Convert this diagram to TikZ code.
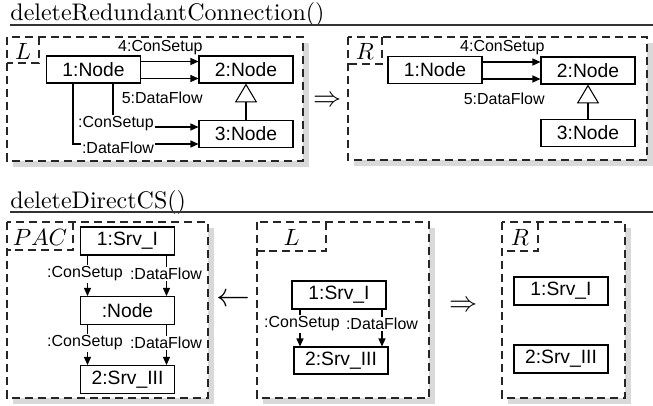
\documentclass[tikz,border=0pt]{standalone}
\usepackage{fontspec}
\setsansfont{Liberation Sans}
\usetikzlibrary{arrows.meta,calc}
\newdimen\pxu \pxu=0.4255pt
\newcommand\mypanel[4]{%
  \fill[shadowbox] (#1+6,#2+6) rectangle (#3+6,#4+6);
  \draw[frame] (#1,#2) rectangle (#3,#4);}
\newcommand\mytab[6]{%
  \draw[frame,fill=none] (#3,#2) |- (#1,#4);
  \node[tabtxt] (#6) at ({(#1+#3)/2},{(#2+#4)/2+1}) {$#5$};}
\begin{document}
\begin{tikzpicture}[x=\pxu,y=-\pxu,
  box/.style={draw, line width=0.45pt, fill=white, minimum width=94\pxu, minimum height=27\pxu, inner sep=0pt, font=\sffamily\fontsize{8.2}{9}\selectfont},
  lbl/.style={font=\sffamily\fontsize{6.8}{8}\selectfont, inner sep=0.6pt},
  wlbl/.style={lbl, fill=white},
  frame/.style={draw=black!85, dash pattern=on 3.4pt off 2.1pt, line width=0.55pt, fill=white},
  shadowbox/.style={fill=black!15},
  arr/.style={-{Triangle[length=3.4pt,width=3pt]}, line width=0.45pt},
  inh/.style={-{Triangle[open,length=8pt,width=9.4pt,fill=white]}, line width=0.45pt},
  ttl/.style={font=\fontsize{10.2}{12}\selectfont, inner sep=0pt},
  rule/.style={draw=black!80, line width=0.6pt},
  tabtxt/.style={font=\fontsize{10}{12}\selectfont, inner sep=0pt},
  sym/.style={inner sep=0pt}]
\useasboundingbox (0,0) rectangle (653,406);

% ---------- titles ----------
\node[ttl, anchor=base west] (t1) at (10,21) {deleteRedundantConnection()};
\coordinate (t1end) at (653,25);
\draw[rule] (t1.base west |- t1end) -- (t1end);
\node[ttl, anchor=base west] (t2) at (10,208) {deleteDirectCS()};
\coordinate (t2end) at (653,212);
\draw[rule] (t2.base west |- t2end) -- (t2end);

% ---------- top L ----------
\mypanel{7}{37}{303}{161}
\mytab{7}{37}{39}{63}{L}{tabL1}
\node[box] (n1) at (93.5,69.5) {1:Node};
\node[box] (n2) at (246,69.5) {2:Node};
\node[box] (n3) at (246,134) {3:Node};
\draw[arr] ($(n1.east)+(0,-8)$) -- ($(n2.west)+(0,-8)$);
\draw[arr] ($(n1.east)+(0,9)$) -- ($(n2.west)+(0,9)$);
\node[lbl, anchor=east] (l4a) at ($(n2.west)+(6,-22)$) {4:ConSetup};
\node[lbl, anchor=east] (l5a) at ($(n2.west)+(6,28.5)$) {5:DataFlow};
\draw[inh] (n3) -- (n2);
\draw[arr] ($(n1.south)+(19.5,0)$) |- ($(n3.west)+(0,-7)$);
\draw[arr] ($(n1.south)+(-20.5,0)$) |- ($(n3.west)+(0,10)$);
\node[wlbl] (lcs) at (116,124) {:ConSetup};
\node[wlbl] (ldf) at (118,148) {:DataFlow};

\node[sym, font=\fontsize{11.5}{12}\selectfont] (imp1) at (328,101) {$\Rightarrow$};

% ---------- top R ----------
\mypanel{348}{37}{647}{160}
\mytab{348}{37}{382}{64}{R}{tabR1}
\node[box] (r1) at (435,70) {1:Node};
\node[box] (r2) at (588,70.5) {2:Node};
\node[box] (r3) at (588,133) {3:Node};
\draw[arr] ($(r1.east)+(0,-8)$) -- ($(r2.west)+(0,-8.5)$);
\draw[arr] ($(r1.east)+(0,9)$) -- ($(r2.west)+(0,8.5)$);
\node[lbl, anchor=east] (l4b) at ($(r2.west)+(6,-22.5)$) {4:ConSetup};
\node[lbl, anchor=east] (l5b) at ($(r2.west)+(6,28)$) {5:DataFlow};
\draw[inh] (r3) -- (r2);

% ---------- bottom PAC ----------
\mypanel{7}{222}{208}{398}
\mytab{7}{222}{73}{250}{PAC}{tabPAC}
\node[box, minimum height=28\pxu] (p1) at (127.5,241) {1:Srv\_I};
\node[box, minimum height=28\pxu] (pn) at (127.5,310.5) {:Node};
\node[box, minimum height=28\pxu] (p2) at (127.5,379.5) {2:Srv\_III};
\draw[arr] ($(p1.south)+(-40,0)$) -- ($(pn.north)+(-40,0)$);
\draw[arr] ($(p1.south)+(39,0)$) -- ($(pn.north)+(39,0)$);
\draw[arr] ($(pn.south)+(-40,0)$) -- ($(p2.north)+(-40,0)$);
\draw[arr] ($(pn.south)+(39,0)$) -- ($(p2.north)+(39,0)$);
\node[wlbl] (pc1) at (85,274) {:ConSetup};
\node[wlbl] (pd1) at (166,274) {:DataFlow};
\node[wlbl] (pc2) at (85,343) {:ConSetup};
\node[wlbl] (pd2) at (166,343) {:DataFlow};

\node[sym, font=\fontsize{13.5}{14}\selectfont] (back) at (233,300) {$\leftarrow$};

% ---------- bottom L ----------
\mypanel{257}{222}{429}{398}
\mytab{257}{222}{326}{251}{L}{tabL2}
\node[box, minimum height=28\pxu] (q1) at (339,295) {1:Srv\_I};
\node[box] (q2) at (341,360.5) {2:Srv\_III};
\coordinate (qa) at ($(q1.south)+(-39,0)$);
\coordinate (qb) at ($(q1.south)+(43,0)$);
\draw[arr] (qa) -- (qa |- q2.north);
\draw[arr] (qb) -- (qb |- q2.north);
\node[wlbl] (qc) at (302,324) {:ConSetup};
\node[wlbl] (qd) at (382,324) {:DataFlow};

\node[sym, font=\fontsize{11.5}{12}\selectfont] (imp2) at (464,306) {$\Rightarrow$};

% ---------- bottom R ----------
\mypanel{502}{222}{625}{398}
\mytab{502}{222}{538}{251}{R}{tabR2}
\node[box, minimum height=28\pxu] (b1) at (561,291) {1:Srv\_I};
\node[box, minimum height=28\pxu] (b2) at (561,359) {2:Srv\_III};
\end{tikzpicture}
\end{document}
